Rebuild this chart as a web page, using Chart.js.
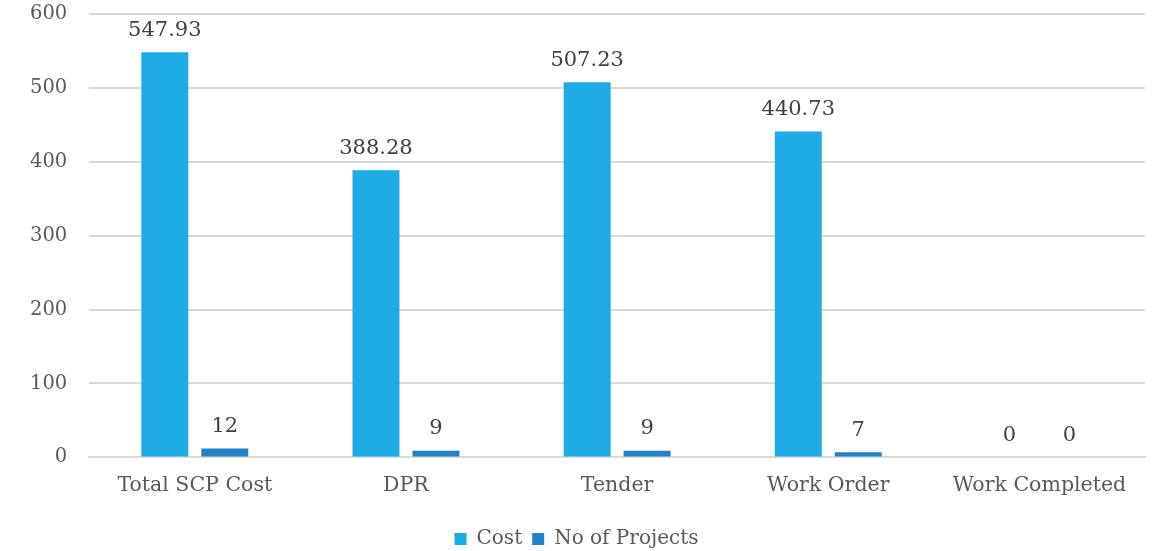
<!DOCTYPE html>
<html>
<head>
<meta charset="utf-8">
<script src="https://cdn.jsdelivr.net/npm/chart.js@4"></script>
<style>
  html, body { margin: 0; padding: 0; background: #fff; overflow: hidden; }
  #wrap { width: 1157px; height: 579px; margin-top: -20px; }
</style>
</head>
<body>
<div id="wrap"><canvas id="chart"></canvas></div>
<script>
const categories = ['Total SCP Cost', 'DPR', 'Tender', 'Work Order', 'Work Completed'];
const costValues = [547.93, 388.28, 507.23, 440.73, 0];
const projectValues = [12, 9, 9, 7, 0];
const costLabels = ['547.93', '388.28', '507.23', '440.73', '0'];
const projectLabels = ['12', '9', '9', '7', '0'];

const serif = "'DejaVu Serif', Georgia, serif";

// étiquettes de valeurs au-dessus des barres
const valueLabels = {
    id: 'valueLabels',
    afterDatasetsDraw(chart) {
        const ctx = chart.ctx;
        ctx.save();
        ctx.fillStyle = '#404040';
        ctx.font = '21px ' + serif;
        ctx.textAlign = 'center';
        ctx.textBaseline = 'middle';
        const texts = [costLabels, projectLabels];
        chart.data.datasets.forEach(function(ds, i) {
            chart.getDatasetMeta(i).data.forEach(function(bar, j) {
                ctx.fillText(texts[i][j], bar.x, bar.y - 22);
            });
        });
        ctx.restore();
    }
};

new Chart(document.getElementById('chart'), {
    type: 'bar',
    data: {
        labels: categories,
        datasets: [
            {
                label: 'Cost',
                data: costValues,
                backgroundColor: '#1eabe3',
                categoryPercentage: 0.568,
                barPercentage: 0.783
            },
            {
                label: 'No of Projects',
                data: projectValues,
                backgroundColor: '#2581c4',
                categoryPercentage: 0.568,
                barPercentage: 0.783
            }
        ]
    },
    options: {
        responsive: true,
        maintainAspectRatio: false,
        animation: false,
        layout: { padding: { top: 0, right: 12, left: 8, bottom: 0 } },
        scales: {
            x: {
                grid: { display: false },
                border: { color: '#d9d9d9', width: 2 },
                ticks: { color: '#595959', font: { family: serif, size: 20.5 }, padding: 8 },
                afterFit: function(scale) { scale.height += 13; } // espace avant la légende
            },
            y: {
                min: 0,
                max: 600,
                ticks: { stepSize: 100, color: '#595959', font: { family: serif, size: 19.5 }, padding: 22 },
                grid: { color: '#d9d9d9', lineWidth: 2, drawTicks: false },
                border: { display: false }
            }
        },
        plugins: {
            legend: {
                position: 'bottom',
                labels: {
                    color: '#595959',
                    font: { family: serif, size: 20 },
                    boxWidth: 12,
                    boxHeight: 12,
                    padding: 10
                }
            },
            tooltip: { enabled: false }
        }
    },
    plugins: [valueLabels]
});
</script>
</body>
</html>
